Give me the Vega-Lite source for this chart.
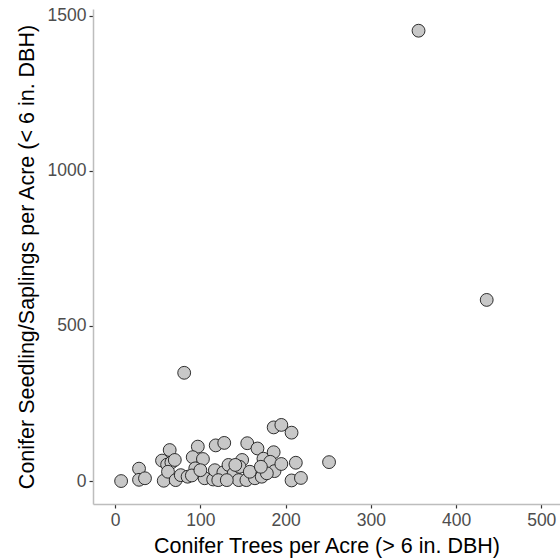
{
  "$schema": "https://vega.github.io/schema/vega-lite/v6.json",
  "autosize": "none",
  "padding": {"left": 93, "top": 9, "right": 0, "bottom": 56},
  "width": 467,
  "height": 495,
  "background": "white",
  "config": {
    "view": {"stroke": null},
    "font": "Liberation Sans",
    "axis": {
      "grid": false,
      "domainColor": "#bdbdbd",
      "domainWidth": 1.5,
      "tickColor": "#333333",
      "tickSize": 4,
      "tickWidth": 1.2,
      "labelColor": "#4d4d4d",
      "labelFontSize": 17.5,
      "labelFont": "Liberation Sans",
      "titleFont": "Liberation Sans",
      "titleFontSize": 21.5,
      "titleFontWeight": "normal",
      "titleColor": "#000000"
    }
  },
  "data": {
    "values": [
      {"tpa": 7, "seed": 0}, {"tpa": 28, "seed": 40}, {"tpa": 28, "seed": 4}, {"tpa": 35, "seed": 9},
      {"tpa": 57, "seed": 1}, {"tpa": 64, "seed": 100}, {"tpa": 55, "seed": 66}, {"tpa": 61, "seed": 53},
      {"tpa": 66, "seed": 60}, {"tpa": 70, "seed": 68}, {"tpa": 62, "seed": 30}, {"tpa": 71, "seed": 3},
      {"tpa": 77, "seed": 19}, {"tpa": 85, "seed": 14}, {"tpa": 97, "seed": 111}, {"tpa": 91, "seed": 77},
      {"tpa": 103, "seed": 71}, {"tpa": 94, "seed": 41}, {"tpa": 105, "seed": 9}, {"tpa": 115, "seed": 5},
      {"tpa": 118, "seed": 115}, {"tpa": 128, "seed": 123}, {"tpa": 117, "seed": 35}, {"tpa": 127, "seed": 28},
      {"tpa": 133, "seed": 52}, {"tpa": 139, "seed": 24}, {"tpa": 145, "seed": 3}, {"tpa": 149, "seed": 68},
      {"tpa": 146, "seed": 46}, {"tpa": 155, "seed": 122}, {"tpa": 154, "seed": 3}, {"tpa": 167, "seed": 105},
      {"tpa": 164, "seed": 9}, {"tpa": 174, "seed": 72}, {"tpa": 172, "seed": 14}, {"tpa": 186, "seed": 93},
      {"tpa": 182, "seed": 62}, {"tpa": 187, "seed": 32}, {"tpa": 178, "seed": 25}, {"tpa": 195, "seed": 55},
      {"tpa": 186, "seed": 173}, {"tpa": 195, "seed": 181}, {"tpa": 207, "seed": 156}, {"tpa": 212, "seed": 59},
      {"tpa": 207, "seed": 2}, {"tpa": 218, "seed": 10}, {"tpa": 251, "seed": 61}, {"tpa": 81, "seed": 349},
      {"tpa": 356, "seed": 1452}, {"tpa": 436, "seed": 584}, {"tpa": 121, "seed": 3}, {"tpa": 131, "seed": 3},
      {"tpa": 141, "seed": 52}, {"tpa": 158, "seed": 30}, {"tpa": 171, "seed": 46}, {"tpa": 90, "seed": 18},
      {"tpa": 100, "seed": 35}
    ]
  },
  "mark": {"type": "point", "filled": true, "fill": "#c8c8c8", "stroke": "#1a1a1a", "strokeWidth": 0.9, "size": 165, "opacity": 1, "fillOpacity": 1, "strokeOpacity": 1, "clip": true},
  "encoding": {
    "x": {
      "field": "tpa", "type": "quantitative",
      "scale": {"domain": [-26, 522], "nice": false, "zero": false},
      "axis": {"values": [0, 100, 200, 300, 400, 500], "format": "d", "title": "Conifer Trees per Acre (> 6 in. DBH)", "labelPadding": 3, "titlePadding": 7}
    },
    "y": {
      "field": "seed", "type": "quantitative",
      "scale": {"domain": [-74, 1522], "nice": false, "zero": false},
      "axis": {"values": [0, 500, 1000, 1500], "format": "d", "title": "Conifer Seedling/Saplings per Acre (< 6 in. DBH)", "labelPadding": 3, "titlePadding": 9}
    }
  }
}
